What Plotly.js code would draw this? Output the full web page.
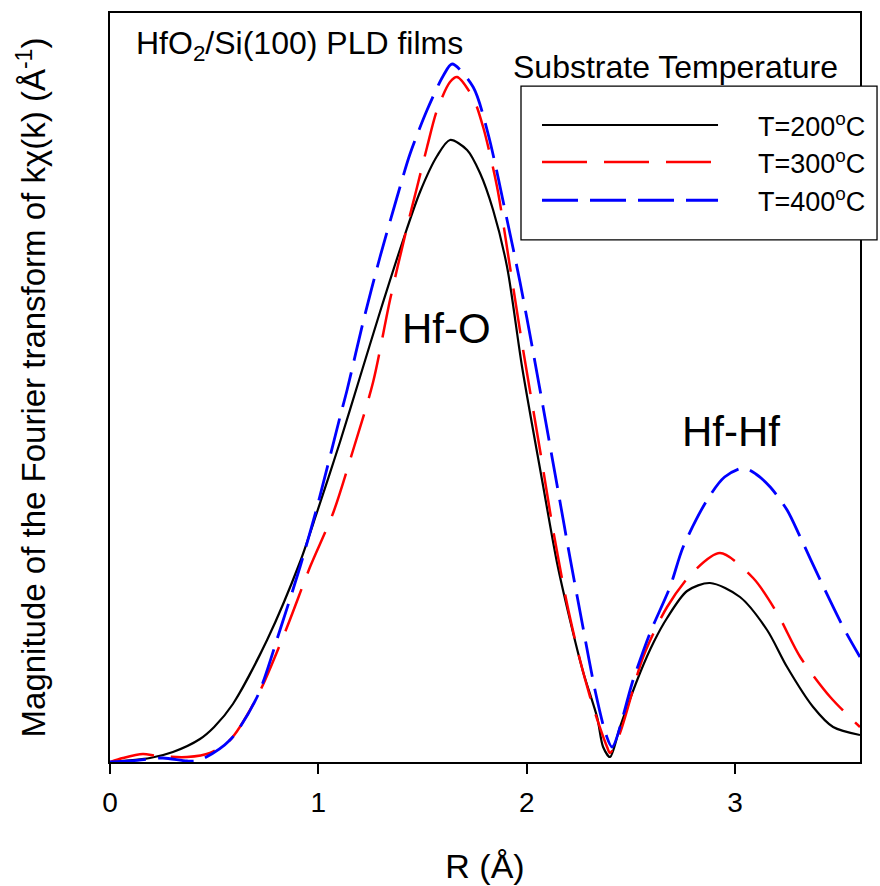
<!DOCTYPE html>
<html>
<head>
<meta charset="utf-8">
<script src="https://cdn.plot.ly/plotly-3.0.1.min.js"></script>
<style>html,body{margin:0;padding:0;background:#fff;}#chart{width:880px;height:886px;}</style>
</head>
<body>
<div id="chart"></div>
<script>
// R (Å) and FT magnitude (arbitrary units)
var r200 = [0.000,0.192,0.302,0.432,0.500,0.590,0.754,0.912,0.994,1.104,1.200,1.296,1.407,1.488,1.570,1.632,1.714,1.776,1.839,1.906,1.978,2.079,2.146,2.208,2.271,2.338,2.367,2.400,2.448,2.544,2.610,2.674,2.770,2.880,3.024,3.154,3.250,3.375,3.471,3.600];
var m200 = [0.00,0.04,0.10,0.23,0.35,0.58,1.22,2.00,2.50,3.20,3.85,4.50,5.22,5.70,6.06,6.22,6.12,5.89,5.52,4.95,3.95,2.76,1.99,1.42,0.90,0.45,0.15,0.05,0.35,0.89,1.20,1.44,1.71,1.79,1.65,1.32,0.95,0.55,0.35,0.27];

var r300 = [0.000,0.062,0.158,0.226,0.370,0.480,0.576,0.706,0.850,0.960,1.071,1.167,1.263,1.344,1.426,1.474,1.522,1.570,1.632,1.666,1.743,1.791,1.858,1.920,1.983,2.064,2.127,2.194,2.256,2.319,2.386,2.400,2.448,2.559,2.674,2.799,2.928,3.087,3.202,3.313,3.457,3.600];
var m300 = [0.00,0.04,0.08,0.06,0.05,0.09,0.22,0.65,1.35,1.95,2.49,3.12,3.80,4.62,5.35,5.75,6.15,6.52,6.80,6.85,6.64,6.35,5.75,4.95,4.12,3.12,2.32,1.58,1.02,0.55,0.15,0.09,0.29,1.05,1.55,1.90,2.09,1.84,1.49,1.05,0.65,0.35];

var r400 = [0.000,0.096,0.254,0.370,0.432,0.576,0.706,0.816,0.912,0.994,1.104,1.138,1.215,1.296,1.378,1.440,1.522,1.599,1.642,1.743,1.815,1.906,1.968,2.031,2.090,2.150,2.210,2.270,2.330,2.380,2.410,2.511,2.592,2.688,2.751,2.866,2.950,3.039,3.100,3.169,3.250,3.313,3.409,3.519,3.600];
var m400 = [0.00,0.01,0.04,0.01,0.02,0.22,0.65,1.32,1.95,2.55,3.45,3.72,4.40,5.05,5.65,6.08,6.52,6.86,6.98,6.75,6.28,5.42,4.80,4.10,3.42,2.72,2.02,1.35,0.70,0.28,0.15,0.82,1.29,1.75,2.15,2.62,2.85,2.94,2.88,2.75,2.52,2.25,1.82,1.35,1.05];

var seriesNames = ['T=200<sup>o</sup>C','T=300<sup>o</sup>C','T=400<sup>o</sup>C'];
var xTicks = [0,1,2,3];

var FONT = 'Liberation Sans, Arial, sans-serif';

var styles = [
  {color:'#000000', width:2.2, dash:'solid'},
  {color:'#ff0000', width:2.5, dash:'45px,17px'},
  {color:'#0000ff', width:2.8, dash:'36px,12px'}
];
var xs = [r200, r300, r400], ys = [m200, m300, m400];

var traces = xs.map(function(x,i){
  return {x:x, y:ys[i], type:'scatter', mode:'lines', name:seriesNames[i],
    line:{color:styles[i].color, width:styles[i].width, dash:styles[i].dash, shape:'spline', smoothing:0.8},
    showlegend:false, hoverinfo:'skip'};
});

// custom legend (long line samples as in the reference)
var legY = [0.8505, 0.801, 0.750];
var shapes = [{type:'rect', xref:'paper', yref:'paper', x0:0.548, x1:1.0227, y0:0.697, y1:0.9025,
  line:{color:'#000', width:1.3}, fillcolor:'#fff', layer:'above'}];
var annotations = [];
for (var i=0;i<3;i++){
  shapes.push({type:'line', xref:'paper', yref:'paper', x0:0.576, x1:0.8107, y0:legY[i], y1:legY[i],
    line:{color:styles[i].color, width:styles[i].width, dash:styles[i].dash}, layer:'above'});
  annotations.push({xref:'paper', yref:'paper', x:0.861, y:legY[i], xanchor:'left', yanchor:'middle',
    text:seriesNames[i], showarrow:false, font:{family:FONT, size:27, color:'#000'}});
}
annotations.push({xref:'paper', yref:'paper', x:0.032, y:0.957, xanchor:'left', yanchor:'middle',
  text:'HfO<sub>2</sub>/Si(100) PLD films', showarrow:false, font:{family:FONT, size:32, color:'#000'}});
annotations.push({xref:'paper', yref:'paper', x:0.535, y:0.928, xanchor:'left', yanchor:'middle',
  text:'Substrate Temperature', showarrow:false, font:{family:FONT, size:32, color:'#000'}});
annotations.push({xref:'paper', yref:'paper', x:0.449, y:0.579, xanchor:'center', yanchor:'middle',
  text:'Hf-O', showarrow:false, font:{family:FONT, size:42, color:'#000'}});
annotations.push({xref:'paper', yref:'paper', x:0.828, y:0.4406, xanchor:'center', yanchor:'middle',
  text:'Hf-Hf', showarrow:false, font:{family:FONT, size:42, color:'#000'}});

var layout = {
  width:880, height:886,
  margin:{l:110, r:20, t:13, b:124},
  paper_bgcolor:'#fff', plot_bgcolor:'#fff',
  font:{family:FONT, color:'#000'},
  xaxis:{range:[0,3.6], tickvals:xTicks, ticktext:xTicks.map(String), ticks:'outside', ticklen:10, tickwidth:2,
    tickcolor:'#000', showline:true, linecolor:'#000', linewidth:2, mirror:true, showgrid:false, zeroline:false,
    ticklabelstandoff:4,
    tickfont:{family:FONT, size:28, color:'#000'},
    title:{text:'R (Å)', font:{family:FONT, size:34, color:'#000'}, standoff:38}},
  yaxis:{range:[0,7.49], showticklabels:false, ticks:'', showline:true, linecolor:'#000', linewidth:2, mirror:true,
    showgrid:false, zeroline:false,
    title:{text:'Magnitude of the Fourier transform of kχ(k) (Å<sup>-1</sup>)', font:{family:FONT, size:33, color:'#000'}, standoff:52}},
  shapes:shapes,
  annotations:annotations,
  showlegend:false
};

Plotly.newPlot('chart', traces, layout, {staticPlot:true});
</script>
</body>
</html>
